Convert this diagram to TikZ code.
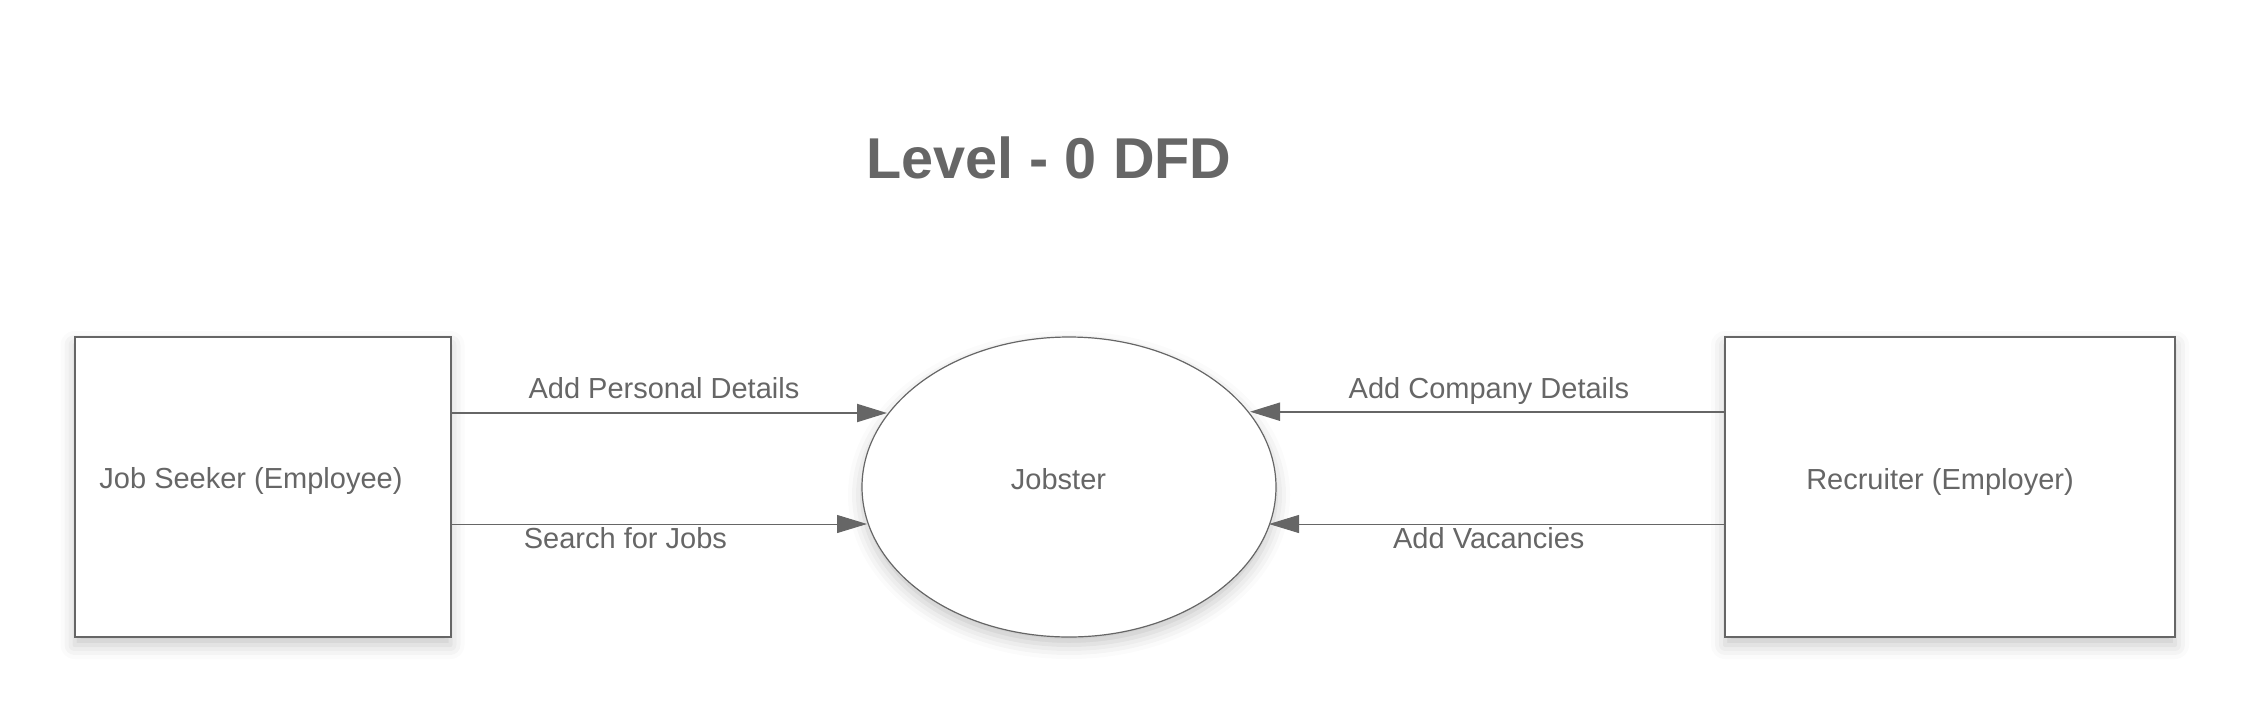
\documentclass[tikz,border=0pt]{standalone}
\usepackage{fontspec}
\setmainfont{Liberation Sans}
\usepackage{xcolor}
\usetikzlibrary{arrows.meta,positioning,shapes.geometric,shadows.blur}
\definecolor{dfdgray}{HTML}{666666}

\begin{document}
\begin{tikzpicture}[
    x=0.5pt, y=-0.5pt,
    every node/.style={text=dfdgray},
    soft/.style={blur shadow={shadow xshift=0pt, shadow yshift=-4pt, shadow blur radius=7pt, shadow opacity=22}},
    entity/.style={draw=dfdgray, line width=1pt, fill=white, soft, minimum width=188pt, minimum height=150pt, outer sep=0pt},
    process/.style={ellipse, draw=dfdgray, line width=0.6pt, fill=white, soft, minimum width=207pt, minimum height=150pt, outer sep=0pt},
    txt/.style={font=\fontsize{14.5}{17}\selectfont},
    flow/.style={draw=dfdgray, -{Triangle[length=15pt, width=9pt]}},
    lbl/.style={txt, anchor=base, inner sep=0pt}
  ]
  \useasboundingbox (0,0) rectangle (2250,713);

  \node[font=\bfseries\fontsize{28.8}{34}\selectfont, anchor=base] (title) at (1049,178) {Level - 0 DFD};

  \node[entity, label={[txt, xshift=-5.75pt, yshift=2.8pt]center:Job Seeker (Employee)}] (js) at (262.5,487) {};
  \node[process, label={[txt, xshift=-5.25pt, yshift=4pt]center:Jobster}] (jb) at (1069,487) {};
  \node[entity, minimum width=225pt, label={[txt, xshift=-5pt, yshift=2.6pt]center:Recruiter (Employer)}] (rc) at (1950,487) {};

  % where the flows meet the process
  \coordinate (in1) at ([shift={(-182,-74)}]jb.center);
  \coordinate (in2) at ([shift={(-202,37)}]jb.center);
  \coordinate (in3) at ([shift={(181,-75.3)}]jb.center);
  \coordinate (in4) at ([shift={(200,37)}]jb.center);

  \draw[flow, line width=1pt] (js.east |- in1) -- node[lbl, pos=0.489, yshift=7.5pt] {Add Personal Details} (in1);
  \draw[flow, line width=0.5pt] (js.east |- in2) -- node[lbl, pos=0.42, yshift=-12pt] {Search for Jobs} (in2);
  \draw[flow, line width=1pt] (rc.west |- in3) -- node[lbl, pos=0.497, yshift=6.5pt] {Add Company Details} (in3);
  \draw[flow, line width=0.5pt] (rc.west |- in4) -- node[lbl, pos=0.518, yshift=-12pt] {Add Vacancies} (in4);
\end{tikzpicture}
\end{document}
